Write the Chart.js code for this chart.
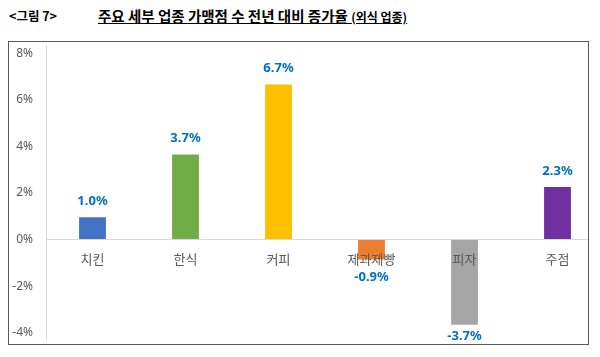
<!DOCTYPE html>
<html><head><meta charset="utf-8">
<script src="https://cdn.jsdelivr.net/npm/chart.js@4"></script>
<style>
body{margin:0;width:600px;height:357px;background:#fff;position:relative;overflow:hidden;font-family:"Noto Sans CJK KR","Noto Sans",sans-serif;}
#fig{position:absolute;left:9px;top:6px;font-size:12.5px;font-weight:bold;color:#000;}
#ttl{position:absolute;left:98px;top:5px;font-size:14.5px;font-weight:bold;color:#000;text-decoration:underline;letter-spacing:0px;white-space:nowrap;}
#ttl small{font-size:12px;letter-spacing:0px;}
#box{position:absolute;left:8px;top:41px;width:581px;height:304px;box-sizing:border-box;border:1.5px solid #595959;overflow:hidden;}
#wrap{position:absolute;left:0;top:-16px;width:640px;height:334px;}
</style></head>
<body>
<div id="fig">&lt;그림 7&gt;</div>
<div id="ttl">주요 세부 업종 가맹점 수 전년 대비 증가율 <small>(외식 업종)</small></div>
<div id="box"><div id="wrap"><canvas id="c" width="640" height="334"></canvas></div></div>
<script>
const categories = ["치킨","한식","커피","제과제빵","피자","주점"];
const values = [1.0, 3.7, 6.7, -0.9, -3.7, 2.3];
const barColors = ["#4472C4","#70AD47","#FFC000","#ED7D31","#A5A5A5","#7030A0"];
const yTicks = [-4,-2,0,2,4,6,8];

const catLabels = {
  id:'catLabels',
  afterDatasetsDraw(chart){
    const ctx = chart.ctx, x = chart.scales.x, y = chart.scales.y;
    const y0 = y.getPixelForValue(0);
    ctx.save();
    ctx.font = '13px "Noto Sans CJK KR"';
    ctx.fillStyle = '#595959';
    ctx.textAlign = 'center'; ctx.textBaseline = 'middle';
    categories.forEach((c,i)=>ctx.fillText(c, x.getPixelForValue(i), y0+19));
    ctx.restore();
  }
};
const valLabels = {
  id:'valLabels',
  afterDatasetsDraw(chart){
    const ctx = chart.ctx, meta = chart.getDatasetMeta(0);
    ctx.save();
    ctx.font = 'bold 13px "Noto Sans", "Noto Sans CJK KR"';
    ctx.fillStyle = '#0070C0';
    ctx.textAlign = 'center'; ctx.textBaseline = 'middle';
    meta.data.forEach((b,i)=>{
      const v = values[i];
      let ty = v >= 0 ? b.y - 15 : Math.min(b.y + 17, 310);
      ctx.fillText(v.toFixed(1)+'%', b.x, ty);
    });
    ctx.restore();
  }
};

new Chart(document.getElementById('c'), {
  type:'bar',
  data:{labels:categories, datasets:[{data:values, backgroundColor:barColors, borderColor:'rgba(255,255,255,0.6)', borderWidth:1, categoryPercentage:1, barPercentage:0.31}]},
  options:{
    responsive:false, animation:false,
    layout:{padding:{left:0,right:45,top:4,bottom:4}},
    plugins:{legend:{display:false}, tooltip:{enabled:false}},
    scales:{
      x:{grid:{display:false}, border:{display:false}, ticks:{display:false}, afterFit(s){s.height=0;}},
      y:{min:-4.3, max:8.3,
         afterBuildTicks(s){ s.ticks = yTicks.map(v=>({value:v})); },
         afterFit(s){ s.width = 37; },
         grid:{drawTicks:false, color:(c)=> c.tick && c.tick.value===0 ? '#d9d9d9' : 'rgba(0,0,0,0)', lineWidth:1},
         border:{display:true, color:'#d9d9d9', width:1},
         ticks:{padding:13, color:'#595959', font:{family:'"Noto Sans", "Noto Sans CJK KR"', size:12}, callback:(v)=>v+'%'}
      }
    }
  },
  plugins:[catLabels, valLabels]
});
</script>
</body></html>
